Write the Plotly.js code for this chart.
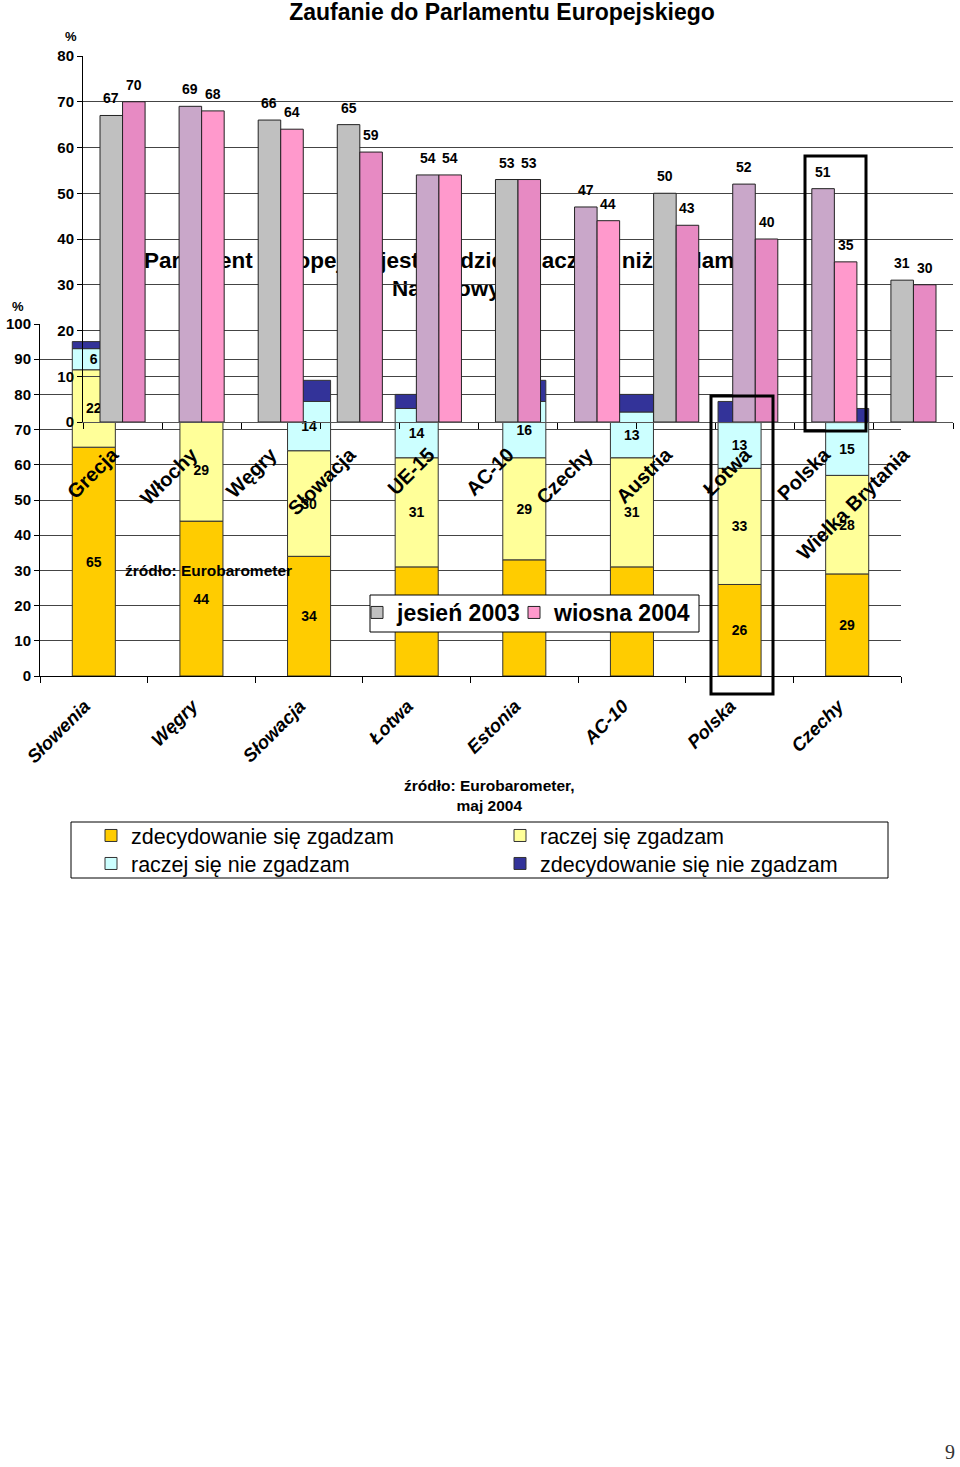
<!DOCTYPE html>
<html>
<head>
<meta charset="utf-8">
<script src="https://cdn.plot.ly/plotly-3.0.1.min.js"></script>
<style>
  html, body { margin: 0; padding: 0; background: #ffffff; }
  #chart { width: 960px; height: 1467px; }
</style>
</head>
<body>
<div id="chart"></div>
<script>
// ---------- DATA ----------
// Upper chart: trust in the European Parliament
const upperCategories = ["Grecja", "Włochy", "Węgry", "Słowacja", "UE-15", "AC-10", "Czechy", "Austria", "Łotwa", "Polska", "Wielka Brytania"];
const autumn2003 = [67, 69, 66, 65, 54, 53, 47, 50, 52, 51, 31];
const spring2004 = [70, 68, 64, 59, 54, 53, 44, 43, 40, 35, 30];
const upperSeriesNames = ["jesień 2003", "wiosna 2004"];

// Lower chart: stacked agreement shares
const lowerCategories = ["Słowenia", "Węgry", "Słowacja", "Łotwa", "Estonia", "AC-10", "Polska", "Czechy"];
const strongAgree    = [65, 44, 34, 31, 33, 31, 26, 29];
const ratherAgree    = [22, 29, 30, 31, 29, 31, 33, 28];
const ratherDisagree = [6, 17, 14, 14, 16, 13, 13, 15];
const strongDisagree = [2, 6, 6, 4, 6, 5, 6, 4];
const lowerSeriesNames = ["zdecydowanie się zgadzam", "raczej się zgadzam", "raczej się nie zgadzam", "zdecydowanie się nie zgadzam"];
// value labels that are visible in the source (the others sit under the legend box)
const strongAgreeLabelShown = [true, true, true, false, false, false, true, true];

// ---------- STYLE ----------
const W = 960, H = 1467;
const px = v => v / W;
const py = v => 1 - v / H;
const FONT = "Liberation Sans, Arial, sans-serif";

const greyA = "#C0C0C0", lilac = "#C9A7C9";
const pinkLight = "#FF99CC", pinkDark = "#E78AC3";
const greyColors = [greyA, lilac, greyA, greyA, lilac, greyA, lilac, greyA, lilac, lilac, greyA];
const pinkIsLight = [false, true, true, false, true, false, true, false, false, true, false];
const stackColors = ["#FFCC00", "#FFFF99", "#CCFFFF", "#333399"];

// cumulative bases for the stacked bars
const lowerSeries = [strongAgree, ratherAgree, ratherDisagree, strongDisagree];
const bases = [];
let running = lowerCategories.map(() => 0);
lowerSeries.forEach(s => { bases.push(running.slice()); running = running.map((r, i) => r + s[i]); });

const labelFont = { family: FONT, size: 14, color: "#000", weight: "bold" };
const traces = [];

lowerSeries.forEach((s, k) => {
  let txt;
  if (k === 0) txt = s.map((v, i) => strongAgreeLabelShown[i] ? String(v) : "");
  else if (k < 3) txt = s.map(String);
  traces.push({
    type: "bar", name: lowerSeriesNames[k], legend: k < 2 ? "legend2" : "legend3",
    x: lowerCategories, y: s, base: bases[k],
    xaxis: "x", yaxis: "y",
    offset: -0.2, width: 0.4,
    marker: { color: stackColors[k], line: { color: "#333333", width: 1 } },
    text: txt,
    textposition: k < 3 ? "inside" : "none",
    insidetextanchor: "middle", textangle: 0, constraintext: "none",
    textfont: labelFont,
    hoverinfo: "skip"
  });
});

// autumn 2003
traces.push({
  type: "bar", name: upperSeriesNames[0], legend: "legend", showlegend: true,
  x: upperCategories, y: autumn2003, xaxis: "x2", yaxis: "y2",
  offset: -0.285, width: 0.285,
  marker: { color: greyColors, line: { color: "#222222", width: 1 } },
  hoverinfo: "skip"
});
// spring 2004 (split only by fill shade; values come from spring2004)
[true, false].forEach(light => {
  const ys = spring2004.map((v, i) => pinkIsLight[i] === light ? v : null);
  traces.push({
    type: "bar", name: upperSeriesNames[1], legend: "legend4", showlegend: light,
    x: upperCategories, y: ys, xaxis: "x2", yaxis: "y2",
    offset: 0, width: 0.285,
    marker: { color: light ? pinkLight : pinkDark, line: { color: "#222222", width: 1 } },
    hoverinfo: "skip"
  });
});

const boldTick = (size) => ({ family: FONT, size: size, color: "#000", weight: "bold" });
const note = (text, x, y, size, extra) => Object.assign({
  text: text, xref: "paper", yref: "paper", x: px(x), y: py(y), showarrow: false,
  xanchor: "center", yanchor: "middle",
  font: { family: FONT, size: size, color: "#000", weight: "bold" }
}, extra || {});

// value labels of the upper bars, placed through the x2/y2 axes
const barLabels = [];
[autumn2003, spring2004].forEach((s, k) => {
  s.forEach((v, i) => {
    barLabels.push({
      text: String(v), xref: "x2", yref: "y2", x: upperCategories[i], y: v,
      xshift: k === 0 ? -11.3 : 11.3, yshift: 7,
      xanchor: "center", yanchor: "bottom", showarrow: false,
      font: labelFont
    });
  });
});

const legendBase = (x, y, size, weight) => ({
  x: px(x), xanchor: "left", y: py(y), yanchor: "top",
  orientation: "h", bgcolor: "rgba(0,0,0,0)", borderwidth: 0,
  font: { family: FONT, size: size, color: "#000", weight: weight },
  traceorder: "normal", itemclick: false
});

const layout = {
  width: W, height: H,
  margin: { l: 0, r: 0, t: 0, b: 0 },
  paper_bgcolor: "#ffffff", plot_bgcolor: "rgba(0,0,0,0)",
  barmode: "overlay",
  showlegend: true,
  font: { family: FONT, color: "#000" },
  title: {
    text: "Zaufanie do Parlamentu Europejskiego",
    x: px(502), xanchor: "center", y: py(12), yanchor: "middle",
    font: { family: FONT, size: 23, color: "#000", weight: "bold" }
  },
  xaxis: {
    domain: [px(40), px(901)], anchor: "y", type: "category",
    tickson: "boundaries", ticks: "outside", ticklen: 6, tickcolor: "#000",
    showline: true, linecolor: "#000", linewidth: 1, showgrid: false,
    tickangle: -45, ticklabelstandoff: 11, ticklabelshift: -9,
    tickfont: { family: FONT, size: 18.5, color: "#000", weight: "bold", style: "italic" }
  },
  yaxis: {
    domain: [py(676), py(324)], anchor: "x", range: [0, 100], dtick: 10,
    ticks: "outside", ticklen: 5, tickcolor: "#000",
    showline: true, linecolor: "#000", linewidth: 1,
    showgrid: true, gridcolor: "#444444", gridwidth: 1, zeroline: false,
    tickfont: boldTick(15)
  },
  xaxis2: {
    domain: [px(83), px(953)], anchor: "y2", type: "category",
    tickson: "boundaries", ticks: "outside", ticklen: 6, tickcolor: "#000",
    showline: true, linecolor: "#555", linewidth: 1, showgrid: false,
    tickangle: -45, ticklabelstandoff: 12, ticklabelshift: -10,
    tickfont: boldTick(20)
  },
  yaxis2: {
    domain: [py(422), py(56)], anchor: "x2", range: [0, 80], dtick: 10,
    ticks: "outside", ticklen: 5, tickcolor: "#000",
    showline: true, linecolor: "#000", linewidth: 1,
    showgrid: true, gridcolor: "#444444", gridwidth: 1, zeroline: false,
    tickfont: boldTick(15)
  },
  legend: legendBase(357, 591, 23, "bold"),
  legend4: legendBase(514, 591, 23, "bold"),
  legend2: Object.assign(legendBase(91, 815, 21.5, "normal"), { entrywidth: 364, entrywidthmode: "pixels" }),
  legend3: Object.assign(legendBase(91, 843, 21.5, "normal"), { entrywidth: 364, entrywidthmode: "pixels" }),
  shapes: [
    { type: "rect", xref: "paper", yref: "paper", layer: "below",
      x0: px(144), x1: px(768), y0: py(272), y1: py(244),
      line: { width: 0 }, fillcolor: "rgba(0,0,0,0)",
      label: { text: "Parlament Europejski jest bardziej znaczący niż Parlament",
               textposition: "middle center",
               font: { family: FONT, size: 22.5, color: "#000", weight: "bold" } } },
    { type: "rect", xref: "paper", yref: "paper", layer: "below",
      x0: px(392), x1: px(501), y0: py(300), y1: py(272),
      line: { width: 0 }, fillcolor: "rgba(0,0,0,0)",
      label: { text: "Narodowy",
               textposition: "middle center",
               font: { family: FONT, size: 22.5, color: "#000", weight: "bold" } } },
    // legend boxes
    { type: "rect", xref: "paper", yref: "paper", layer: "above",
      x0: px(370), x1: px(699), y0: py(632), y1: py(595),
      line: { color: "#000", width: 1 }, fillcolor: "#ffffff" },
    { type: "rect", xref: "paper", yref: "paper", layer: "above",
      x0: px(71), x1: px(888), y0: py(878), y1: py(822),
      line: { color: "#000", width: 1 }, fillcolor: "#ffffff" },
    // highlight frames
    { type: "rect", xref: "paper", yref: "paper", layer: "above",
      x0: px(805), x1: px(866), y0: py(431), y1: py(156),
      line: { color: "#000", width: 3 }, fillcolor: "rgba(0,0,0,0)" },
    { type: "rect", xref: "paper", yref: "paper", layer: "above",
      x0: px(711), x1: px(773), y0: py(694), y1: py(396),
      line: { color: "#000", width: 3 }, fillcolor: "rgba(0,0,0,0)" }
  ],
  annotations: barLabels.concat([
    note("%", 18, 306, 13),
    note("%", 71, 37, 13),
    note("źródło: Eurobarometer", 208, 570, 15.5),
    note("źródło: Eurobarometer,<br>maj 2004", 490, 795, 15.5, { align: "center" }),
    note("9", 950, 1452, 20, { font: { family: "Liberation Serif, Times New Roman, serif", size: 20, color: "#333" } })
  ])
};

Plotly.newPlot("chart", traces, layout, { staticPlot: true, displayModeBar: false });
</script>
</body>
</html>
